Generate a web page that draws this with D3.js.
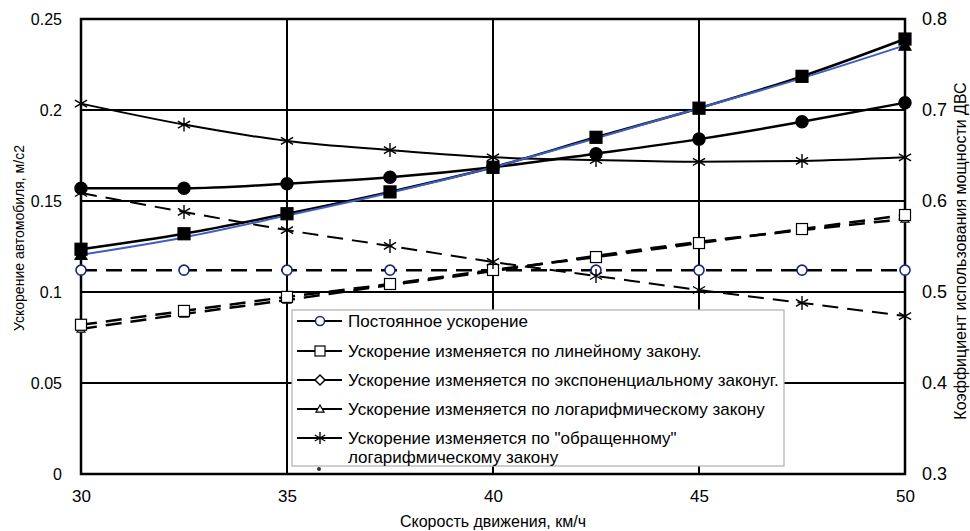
<!DOCTYPE html>
<html>
<head>
<meta charset="utf-8">
<script src="https://cdn.jsdelivr.net/npm/d3@7"></script>
<style>
  body { margin: 0; background: #fff; }
  svg { font-family: "Liberation Sans", Arial, sans-serif; }
</style>
</head>
<body>
<svg id="chart" width="970" height="531"></svg>
<script>
// speed, km/h
const speeds = [30, 32.5, 35, 37.5, 40, 42.5, 45, 47.5, 50];
const xTicks = [30, 35, 40, 45, 50];
const leftTicks = [0, 0.05, 0.1, 0.15, 0.2, 0.25];
const rightTicks = [0.3, 0.4, 0.5, 0.6, 0.7, 0.8];

// acceleration, m/s2 (left axis, dashed)
const accConst = [0.112, 0.112, 0.112, 0.112, 0.112, 0.112, 0.112, 0.112, 0.112];
const accLinear = [0.082, 0.0896, 0.0973, 0.1044, 0.1121, 0.1192, 0.1269, 0.1346, 0.1423];
const accLog = [0.0797, 0.0879, 0.0956, 0.1038, 0.1115, 0.1198, 0.1275, 0.134, 0.1401];
const accInvLog = [0.1544, 0.144, 0.134, 0.1253, 0.1165, 0.1088, 0.1011, 0.094, 0.0868];

// power utilisation coefficient (right axis, solid)
const coefInvLog = [0.707, 0.684, 0.666, 0.656, 0.648, 0.645, 0.643, 0.644, 0.648];
const coefExp = [0.614, 0.614, 0.619, 0.626, 0.637, 0.652, 0.668, 0.687, 0.708];
const coefLinear = [0.547, 0.564, 0.586, 0.61, 0.637, 0.67, 0.702, 0.737, 0.778];
const coefLog = [0.541, 0.56, 0.584, 0.609, 0.637, 0.669, 0.702, 0.735, 0.771];

const legendLabels = [
  "Постоянное ускорение",
  "Ускорение изменяется по линейному закону.",
  "Ускорение изменяется по экспоненциальному законуг.",
  "Ускорение изменяется по логарифмическому закону",
  "Ускорение изменяется по \"обращенному\"",
  "логарифмическому закону"
];

const margin = { top: 19, right: 65, bottom: 57, left: 81 };
const width = 970 - margin.left - margin.right;
const height = 531 - margin.top - margin.bottom;

const svg = d3.select("#chart");
const g = svg.append("g").attr("transform", `translate(${margin.left},${margin.top})`);

const x = d3.scaleLinear().domain([30, 50]).range([0, width]);
const yL = d3.scaleLinear().domain([0, 0.25]).range([height, 0]);
const yR = d3.scaleLinear().domain([0.3, 0.8]).range([height, 0]);

// Grid lines
leftTicks.slice(1, -1).forEach(t => {
  g.append("line").attr("x1", 0).attr("x2", width)
    .attr("y1", yL(t)).attr("y2", yL(t))
    .attr("stroke", "#000").attr("stroke-width", 2);
});
xTicks.slice(1, -1).forEach(t => {
  g.append("line").attr("x1", x(t)).attr("x2", x(t))
    .attr("y1", 0).attr("y2", height)
    .attr("stroke", "#000").attr("stroke-width", 2);
});

// Axes (labels only, frame drawn separately)
const axL = g.append("g").call(d3.axisLeft(yL).tickValues(leftTicks).tickFormat(String).tickSize(0).tickPadding(19));
const axR = g.append("g").attr("transform", `translate(${width},0)`)
  .call(d3.axisRight(yR).tickValues(rightTicks).tickFormat(d3.format(".1f")).tickSize(0).tickPadding(17));
const axB = g.append("g").attr("transform", `translate(0,${height})`)
  .call(d3.axisBottom(x).tickValues(xTicks).tickSize(0).tickPadding(16));
[axL, axR, axB].forEach(a => {
  a.select(".domain").remove();
  a.selectAll("text").attr("font-size", 16).attr("fill", "#000")
    .attr("font-family", "'Liberation Sans', Arial, sans-serif");
});
axR.selectAll("text").attr("font-size", 18);
axB.selectAll("text").attr("font-size", 17);

// Frame
g.append("rect").attr("width", width).attr("height", height)
  .attr("fill", "none").attr("stroke", "#000").attr("stroke-width", 2.5);

// Markers
function drawMarker(sel, type, cx, cy, opts = {}) {
  const fill = opts.fill || "#000";
  const stroke = opts.stroke || "#000";
  if (type === "circle") {
    sel.append("circle").attr("cx", cx).attr("cy", cy).attr("r", opts.r || 5)
      .attr("fill", fill).attr("stroke", stroke).attr("stroke-width", opts.sw || 1.5);
  } else if (type === "square") {
    const s = opts.s || 12;
    sel.append("rect").attr("x", cx - s / 2).attr("y", cy - s / 2).attr("width", s).attr("height", s)
      .attr("fill", fill).attr("stroke", stroke).attr("stroke-width", opts.sw || 1.2);
  } else if (type === "triangle") {
    const s = opts.s || 6;
    sel.append("path").attr("transform", `translate(${cx},${cy})`)
      .attr("d", `M0,${-s}L${s},${s * 0.8}L${-s},${s * 0.8}Z`)
      .attr("fill", fill).attr("stroke", stroke).attr("stroke-width", opts.sw || 1.2);
  } else if (type === "diamond") {
    const s = opts.s || 5;
    sel.append("path").attr("transform", `translate(${cx},${cy})`)
      .attr("d", `M0,${-s}L${s},0L0,${s}L${-s},0Z`)
      .attr("fill", fill).attr("stroke", stroke).attr("stroke-width", opts.sw || 1.5);
  } else if (type === "star") {
    const s = opts.s || 7;
    sel.append("path").attr("transform", `translate(${cx},${cy})`)
      .attr("d", `M0,${-s}V${s}M${-s * 0.87},${-s * 0.5}L${s * 0.87},${s * 0.5}M${-s * 0.87},${s * 0.5}L${s * 0.87},${-s * 0.5}`)
      .attr("fill", "none").attr("stroke", stroke).attr("stroke-width", opts.sw || 1.4);
  }
}

const series = [
  { values: accConst, y: yL, dash: "16,9", color: "#000", w: 2.5, marker: "circle", mo: { r: 5, fill: "#fff", stroke: "#1a237e", sw: 1.6 } },
  { values: accLog, y: yL, dash: "16,9", color: "#000", w: 2.5, marker: "triangle", mo: { s: 4, fill: "#fff" } },
  { values: accLinear, y: yL, dash: "16,9", color: "#000", w: 2.5, marker: "square", mo: { s: 11, fill: "#fff", sw: 1.2 } },
  { values: accInvLog, y: yL, dash: "16,9", color: "#000", w: 2, marker: "star", mo: { s: 7 } },
  { values: coefInvLog, y: yR, dash: null, color: "#000", w: 2, marker: "star", mo: { s: 7 } },
  { values: coefExp, y: yR, dash: null, color: "#000", w: 2.5, marker: "circle", mo: { r: 6 } },
  { values: coefLinear, y: yR, dash: null, color: "#000", w: 2.5, marker: "square", mo: { s: 12 } },
  { values: coefLog, y: yR, dash: null, color: "#3f5fbf", w: 2, marker: "triangle", mo: { s: 6, fill: "#000" } }
];

series.forEach(sr => {
  const line = d3.line().x((d, i) => x(speeds[i])).y(d => sr.y(d)).curve(d3.curveMonotoneX);
  g.append("path").datum(sr.values).attr("d", line)
    .attr("fill", "none").attr("stroke", sr.color).attr("stroke-width", sr.w)
    .attr("stroke-dasharray", sr.dash);
});
series.forEach(sr => {
  const mg = g.append("g");
  sr.values.forEach((v, i) => {
    if (sr.marker === "triangle" && sr.y === yR && i > 0 && i < sr.values.length - 1) return;
    drawMarker(mg, sr.marker, x(speeds[i]), sr.y(v), sr.mo);
  });
});

// Legend
const lg = svg.append("g").attr("transform", "translate(292,310)");
lg.append("rect").attr("width", 492).attr("height", 156)
  .attr("fill", "#fff").attr("stroke", "#b0b0b0").attr("stroke-width", 1.2);
const legendMarkers = [
  { m: "circle", o: { r: 4.5, fill: "#fff", stroke: "#1a237e", sw: 1.5 } },
  { m: "square", o: { s: 10, fill: "#fff", sw: 1.2 } },
  { m: "diamond", o: { s: 5, fill: "#fff", sw: 1.5 } },
  { m: "triangle", o: { s: 4, fill: "#fff", sw: 1.2 } },
  { m: "star", o: { s: 6, sw: 1.4 } }
];
const rowY = [11, 41, 70, 99, 128, 147];
legendLabels.forEach((lab, i) => {
  if (i < 5) {
    lg.append("line").attr("x1", 5).attr("x2", 50).attr("y1", rowY[i]).attr("y2", rowY[i])
      .attr("stroke", "#000").attr("stroke-width", 2);
    drawMarker(lg, legendMarkers[i].m, 28, rowY[i], legendMarkers[i].o);
  }
  lg.append("text").attr("x", 56).attr("y", rowY[i]).attr("dy", "0.35em")
    .attr("font-size", 17).attr("fill", "#000").text(lab);
});
// partially hidden sixth entry marker
lg.append("circle").attr("cx", 27).attr("cy", 159).attr("r", 2).attr("fill", "#333");

// Axis titles
svg.append("text").attr("transform", "translate(24,238) rotate(-90)")
  .attr("text-anchor", "middle").attr("font-size", 14).text("Ускорение автомобиля, м/с2");
svg.append("text").attr("transform", "translate(966,251) rotate(-90)")
  .attr("text-anchor", "middle").attr("font-size", 16).text("Коэффициент использования мощности ДВС");
svg.append("text").attr("x", 493).attr("y", 527)
  .attr("text-anchor", "middle").attr("font-size", 16)
  .text("Скорость движения, км/ч");
</script>
</body>
</html>
